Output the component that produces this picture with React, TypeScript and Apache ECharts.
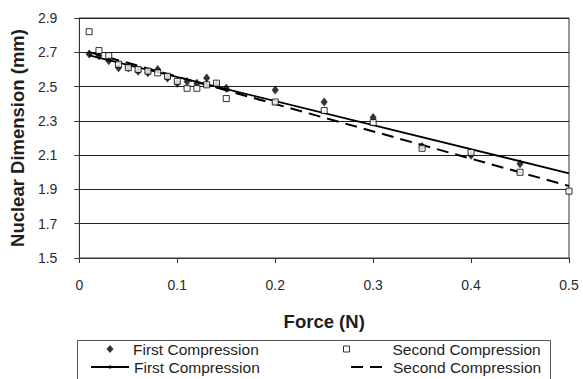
import { useEffect, useRef } from "react";
import * as echarts from "echarts";

const forceFirst = [0.01, 0.02, 0.03, 0.04, 0.05, 0.06, 0.07, 0.08, 0.09, 0.1, 0.11, 0.12, 0.13, 0.14, 0.15, 0.2, 0.25, 0.3, 0.35, 0.4, 0.45];
const dimFirst = [2.69, 2.68, 2.65, 2.61, 2.61, 2.59, 2.58, 2.6, 2.55, 2.52, 2.53, 2.52, 2.55, 2.51, 2.49, 2.48, 2.41, 2.32, 2.15, 2.1, 2.05];
const forceSecond = [0.01, 0.02, 0.03, 0.04, 0.05, 0.06, 0.07, 0.08, 0.09, 0.1, 0.11, 0.12, 0.13, 0.14, 0.15, 0.2, 0.25, 0.3, 0.35, 0.4, 0.45, 0.5];
const dimSecond = [2.82, 2.71, 2.68, 2.63, 2.61, 2.6, 2.59, 2.58, 2.56, 2.53, 2.49, 2.49, 2.51, 2.52, 2.43, 2.41, 2.36, 2.29, 2.14, 2.115, 2.0, 1.89];
const trendRange = [0.01, 0.5];
const seriesNames = ["First Compression", "Second Compression"];
const trendSuffix = " trend";
const xAxisTitle = "Force (N)";
const yAxisTitle = "Nuclear Dimension (mm)";

const FONT = "'Liberation Sans', Arial, Helvetica, sans-serif";

function linReg(xs: number[], ys: number[]) {
  const n = xs.length;
  const mx = xs.reduce((a, b) => a + b, 0) / n;
  const my = ys.reduce((a, b) => a + b, 0) / n;
  let sxx = 0;
  let sxy = 0;
  for (let i = 0; i < n; i++) {
    sxx += (xs[i] - mx) * (xs[i] - mx);
    sxy += (xs[i] - mx) * (ys[i] - my);
  }
  const slope = sxy / sxx;
  const intercept = my - slope * mx;
  return (x: number) => intercept + slope * x;
}

export default function App() {
  const ref = useRef<HTMLDivElement>(null);
  useEffect(() => {
    document.body.style.margin = "0";
    if (!ref.current) return;
    const chart = echarts.init(ref.current, undefined, { renderer: "svg" });
    const f1 = linReg(forceFirst, dimFirst);
    const f2 = linReg(forceSecond, dimSecond);
    const baseText = { fontSize: 15.5, lineHeight: 16, color: "#1e1e1e", fontFamily: FONT };
    const legendCommon = {
      padding: 0,
      selectedMode: false as const,
      symbolKeepAspect: true,
      formatter: (name: string) => name.replace(trendSuffix, ""),
    };
    chart.setOption({
      animation: false,
      backgroundColor: "#ffffff",
      grid: {
        left: 77,
        right: 14,
        top: 18,
        bottom: 121,
        show: true,
        borderColor: "#333",
        borderWidth: 1,
        backgroundColor: "transparent",
      },
      xAxis: {
        type: "value",
        min: 0,
        max: 0.5,
        interval: 0.1,
        name: xAxisTitle,
        nameLocation: "middle",
        nameGap: 54,
        nameTextStyle: { fontSize: 18.5, fontWeight: "bold", color: "#1e1e1e", fontFamily: FONT },
        axisLine: { show: true, lineStyle: { color: "#333", width: 1 } },
        axisTick: { show: true, inside: false, length: 5, lineStyle: { color: "#333" } },
        axisLabel: {
          margin: 20,
          fontSize: 14,
          color: "#2a2a2a",
          fontFamily: FONT,
          formatter: (v: number) => (v === 0 ? "0" : String(+v.toFixed(1))),
        },
        splitLine: { show: false },
      },
      yAxis: {
        type: "value",
        min: 1.5,
        max: 2.9,
        interval: 0.2,
        name: yAxisTitle,
        nameLocation: "middle",
        nameGap: 51,
        nameRotate: 90,
        nameTextStyle: { fontSize: 18.5, fontWeight: "bold", color: "#1e1e1e", fontFamily: FONT },
        axisLine: { show: true, lineStyle: { color: "#333", width: 1 } },
        axisTick: { show: true, inside: false, length: 5, lineStyle: { color: "#333" } },
        axisLabel: {
          margin: 22,
          fontSize: 14,
          color: "#2a2a2a",
          fontFamily: FONT,
          formatter: (v: number) => v.toFixed(1),
        },
        splitLine: { show: true, lineStyle: { color: "#222", width: 1 } },
      },
      legend: [
        {
          ...legendCommon,
          left: 106.5,
          top: 341,
          itemWidth: 7,
          itemHeight: 8,
          textStyle: { ...baseText, padding: [0, 0, 0, 14.5] },
          data: [seriesNames[0]],
        },
        {
          ...legendCommon,
          left: 90,
          top: 359,
          itemWidth: 38,
          itemHeight: 4,
          textStyle: baseText,
          data: [seriesNames[0] + trendSuffix],
        },
        {
          ...legendCommon,
          left: 343,
          top: 341,
          itemWidth: 6,
          itemHeight: 6,
          textStyle: { ...baseText, padding: [0, 0, 0, 38] },
          data: [
            {
              name: seriesNames[1],
              itemStyle: { color: "#ffffff", borderColor: "#000", borderWidth: 1 },
            },
          ],
        },
        {
          ...legendCommon,
          left: 350,
          top: 359,
          itemWidth: 37,
          itemHeight: 8,
          textStyle: baseText,
          data: [
            {
              name: seriesNames[1] + trendSuffix,
              itemStyle: { color: "rgba(0,0,0,0)", borderWidth: 0, opacity: 0 },
            },
          ],
        },
      ],
      graphic: [
        {
          type: "rect",
          left: 75,
          top: 338,
          shape: { width: 473, height: 60 },
          style: { fill: "none", stroke: "#555", lineWidth: 1 },
          silent: true,
        },
      ],
      series: [
        {
          name: seriesNames[0] + trendSuffix,
          type: "line",
          symbol: "none",
          z: 1,
          lineStyle: { color: "#000", width: 1.8, type: "solid" },
          itemStyle: { color: "#000" },
          data: trendRange.map((x) => [x, f1(x)]),
        },
        {
          name: seriesNames[1] + trendSuffix,
          type: "line",
          symbol: "none",
          z: 1,
          lineStyle: { color: "#000", width: 2, type: [12, 7] },
          itemStyle: { color: "#000" },
          data: trendRange.map((x) => [x, f2(x)]),
        },
        {
          name: seriesNames[0],
          type: "scatter",
          symbol: "diamond",
          symbolSize: [7, 9],
          z: 3,
          itemStyle: { color: "#000" },
          data: forceFirst.map((x, i) => [x, dimFirst[i]]),
        },
        {
          name: seriesNames[1],
          type: "scatter",
          symbol: "rect",
          symbolSize: 6,
          z: 4,
          itemStyle: { color: "#ffffff", borderColor: "#000", borderWidth: 1 },
          data: forceSecond.map((x, i) => [x, dimSecond[i]]),
        },
      ],
    });
    return () => chart.dispose();
  }, []);
  return <div ref={ref} style={{ width: 583, height: 379 }} />;
}
